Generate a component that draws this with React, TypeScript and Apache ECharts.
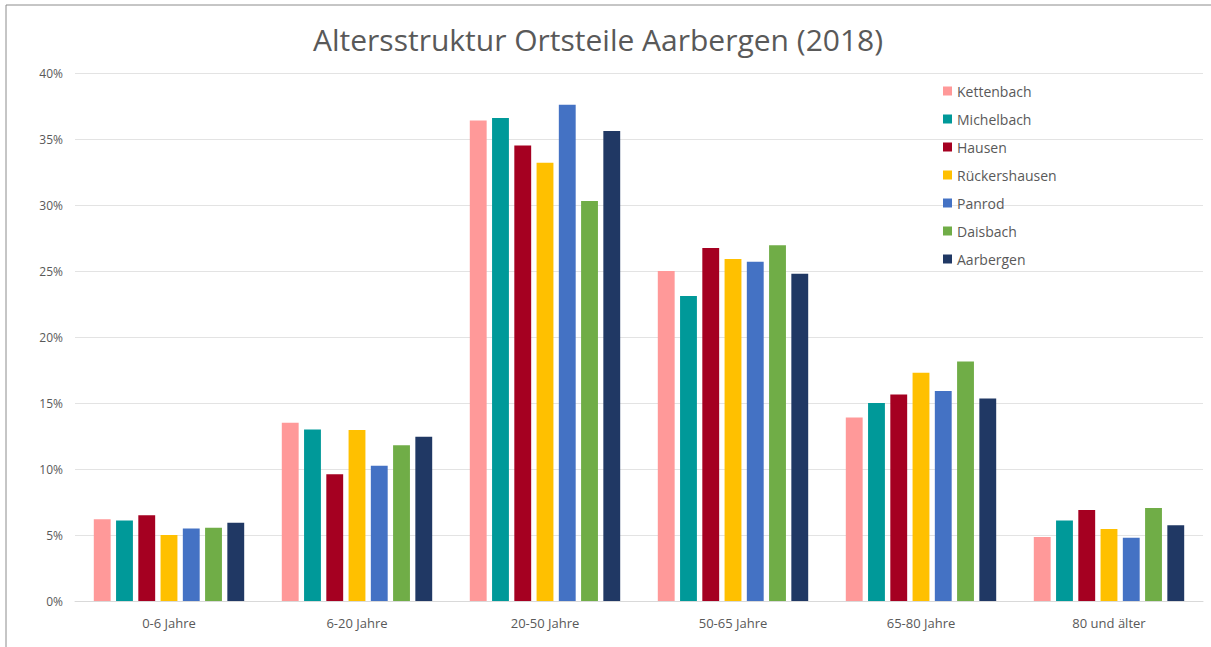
import React, { useEffect, useRef } from "react";
import * as echarts from "echarts";

const categories = ["0-6 Jahre", "6-20 Jahre", "20-50 Jahre", "50-65 Jahre", "65-80 Jahre", "80 und älter"];
const seriesNames = ["Kettenbach", "Michelbach", "Hausen", "Rückershausen", "Panrod", "Daisbach", "Aarbergen"];
const seriesColors = ["#FF9999", "#009999", "#A50021", "#FFC000", "#4472C4", "#70AD47", "#203864"];

const kettenbach = [6.2, 13.5, 36.4, 25.0, 13.9, 4.85];
const michelbach = [6.1, 13.0, 36.6, 23.1, 15.0, 6.1];
const hausen = [6.5, 9.6, 34.5, 26.75, 15.65, 6.9];
const rueckershausen = [5.0, 12.95, 33.2, 25.9, 17.3, 5.45];
const panrod = [5.5, 10.25, 37.6, 25.7, 15.9, 4.8];
const daisbach = [5.55, 11.8, 30.3, 26.95, 18.15, 7.05];
const aarbergen = [5.93, 12.45, 35.6, 24.8, 15.35, 5.73];

const seriesValues = [kettenbach, michelbach, hausen, rueckershausen, panrod, daisbach, aarbergen];
const yTicks = [0, 5, 10, 15, 20, 25, 30, 35, 40];

const FONT = "'Open Sans', sans-serif";
const TEXT = "#595959";

export default function App() {
  const ref = useRef<HTMLDivElement>(null);
  useEffect(() => {
    if (!ref.current) return;
    const chart = echarts.init(ref.current, null, { renderer: "svg" });
    chart.setOption({
      animation: false,
      backgroundColor: "#ffffff",
      title: {
        text: "Altersstruktur Ortsteile Aarbergen (2018)",
        left: 308,
        top: 19,
        textStyle: { fontFamily: FONT, fontSize: 30, fontWeight: "normal", color: TEXT },
      },
      legend: {
        orient: "vertical",
        left: 938,
        top: 77,
        itemWidth: 9,
        itemHeight: 9,
        itemGap: 10,
        icon: "rect",
        textStyle: { fontFamily: FONT, fontSize: 14, color: TEXT, lineHeight: 18 },
        data: seriesNames,
      },
      grid: { left: 75, right: 8, top: 73, bottom: 46 },
      xAxis: {
        type: "category",
        data: categories,
        axisTick: { show: false },
        axisLine: { lineStyle: { color: "#d9d9d9" } },
        axisLabel: { fontFamily: FONT, fontSize: 13, color: TEXT, margin: 15 },
      },
      yAxis: {
        type: "value",
        min: yTicks[0],
        max: yTicks[yTicks.length - 1],
        interval: 5,
        axisLine: { show: false },
        axisTick: { show: false },
        splitLine: { lineStyle: { color: "#e3e3e3" } },
        axisLabel: { fontFamily: FONT, fontSize: 12, color: TEXT, margin: 12, formatter: "{value}%" },
      },
      graphic: [
        { type: "line", shape: { x1: 6, y1: 5, x2: 6, y2: 647 }, style: { stroke: "#8c8c8c", lineWidth: 1 } },
        { type: "line", shape: { x1: 6, y1: 5, x2: 1211, y2: 5 }, style: { stroke: "#8c8c8c", lineWidth: 1 } },
      ],
      series: seriesNames.map((name, i) => ({
        name,
        type: "bar",
        data: seriesValues[i],
        itemStyle: { color: seriesColors[i] },
        barGap: "32%",
        barCategoryGap: "20%",
      })),
    });
    return () => chart.dispose();
  }, []);
  return <div ref={ref} style={{ position: "fixed", left: 0, top: 0, width: 1211, height: 647 }} />;
}
